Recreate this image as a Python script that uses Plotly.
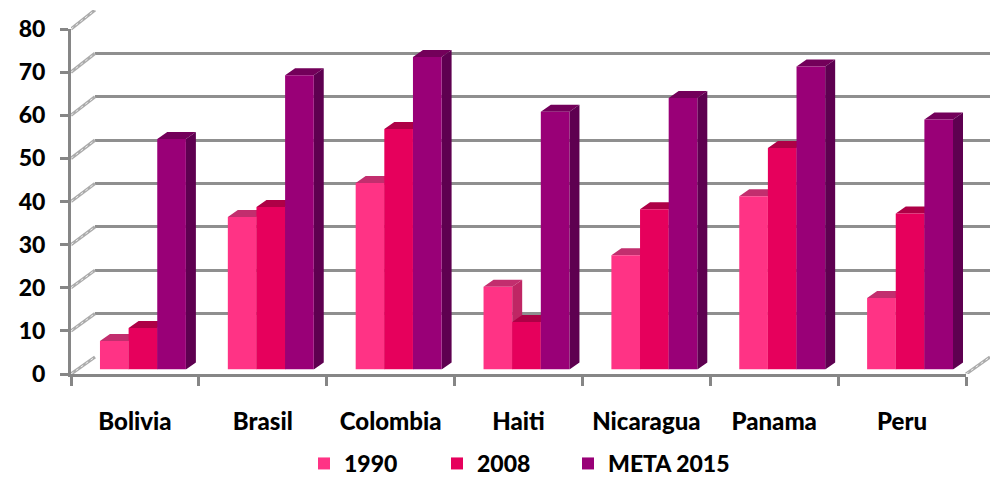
import plotly.graph_objects as go

categories = ["Bolivia", "Brasil", "Colombia", "Haiti", "Nicaragua", "Panama", "Peru"]
series_names = ["1990", "2008", "META 2015"]
v1990 = [6.6, 35.4, 43.3, 19.2, 26.5, 40.2, 16.6]
v2008 = [9.6, 37.7, 55.8, 11.0, 37.2, 51.4, 36.2]
vmeta = [53.5, 68.3, 72.5, 59.8, 63.0, 70.3, 58.0]
y_ticks = [0, 10, 20, 30, 40, 50, 60, 70, 80]

front_colors = ["#FF3385", "#E6005C", "#990077"]
top_colors = ["#C22E6E", "#AE0046", "#73005A"]
side_colors = ["#BF2664", "#AA0044", "#5E0050"]
AXIS = "#868686"
FONT = "Lato"

W, H = 990, 478
def dx(a, b): return [a / W, b / W]
def dy(top, bot): return [1 - bot / H, 1 - top / H]

fig = go.Figure()
series = [v1990, v2008, vmeta]
n = len(categories)
x_centers = [i + 0.5 for i in range(n)]

BAR_SCALE = 4.31
SLOT = 0.224
DEP_X = 10 / 127.9
DEP_Y = 7 / BAR_SCALE

# anchors the back wall subplot, whose gridlines need a trace to exist
fig.add_trace(go.Scatter(x=[None], y=[None], xaxis="x", yaxis="y", showlegend=False, hoverinfo="skip"))
# keeps the front axes subplot alive
fig.add_trace(go.Scatter(x=[None], y=[None], xaxis="x2", yaxis="y2", showlegend=False, hoverinfo="skip"))

for s, vals in enumerate(series):
    tx, ty, sx, sy = [], [], [], []
    for i, v in enumerate(vals):
        l = x_centers[i] - 1.5 * SLOT + s * SLOT
        r = l + SLOT
        tx += [l, r, r + DEP_X, l + DEP_X, l, None]
        ty += [v, v, v + DEP_Y, v + DEP_Y, v, None]
        sx += [r, r + DEP_X, r + DEP_X, r, r, None]
        sy += [0, DEP_Y, v + DEP_Y, v, 0, None]
    for xs, ys, c in ((tx, ty, top_colors[s]), (sx, sy, side_colors[s])):
        fig.add_trace(go.Scatter(x=xs, y=ys, mode="lines", fill="toself", fillcolor=c,
                                 line=dict(width=0, color=c), xaxis="x3", yaxis="y3",
                                 showlegend=False, hoverinfo="skip", cliponaxis=False))

legend_ids = ["legend", "legend2", "legend3"]
for s, vals in enumerate(series):
    fig.add_trace(go.Bar(x=x_centers, y=vals, name=series_names[s], marker_color=front_colors[s],
                         marker_line_width=0, xaxis="x4", yaxis="y4", legend=legend_ids[s]))

# oblique strips joining the front axis to the back wall
WALL_X = 24 / 127.9
def diag(x0, t):
    return [x0, x0 + WALL_X], [t, t + (17 + 2 * t / 80) / 4.3125]
for x0, t in [(0, t) for t in y_ticks] + [(7, 0)]:
    xs, ys = diag(x0, t)
    for col, wd, dash in (("#ABABAB", 3.2, "solid"), ("#EFEFEF", 1.0, "dot")):
        fig.add_trace(go.Scatter(x=xs, y=ys, mode="lines", line=dict(color=col, width=wd, dash=dash),
                                 xaxis="x5", yaxis="y5", showlegend=False, hoverinfo="skip"))

tick_font = dict(family=FONT, size=23, color="black", weight=900)
cat_font = dict(family=FONT, size=24, color="black", weight=900)
leg_font = dict(family=FONT, size=23, color="black", weight=900)
hidden = dict(visible=False, fixedrange=True)

def legend_at(px):
    return dict(orientation="h", x=px / W, y=1 - 463.5 / H, xanchor="left", yanchor="middle",
                font=leg_font, bgcolor="rgba(0,0,0,0)", itemwidth=30)

fig.update_layout(
    width=W, height=H, margin=dict(l=0, r=0, t=0, b=0, autoexpand=False), autosize=False,
    paper_bgcolor="white", plot_bgcolor="rgba(0,0,0,0)",
    barmode="group", bargap=1 - 3 * SLOT, bargroupgap=0,
    xaxis=dict(domain=dx(95, 990), range=[0, 7], visible=False, showgrid=False),
    yaxis=dict(domain=dy(10, 357), range=[0, 80], anchor="x", tickvals=y_ticks, showgrid=True,
               gridcolor="#8F8F8F", gridwidth=2.5, showticklabels=False, ticks="", zeroline=False,
               showline=False),
    xaxis2=dict(domain=dx(71, 966), range=[0, 7], anchor="y2", showline=True, linecolor=AXIS, linewidth=3,
                showgrid=False, zeroline=False, tickvals=x_centers, ticktext=categories, ticks="",
                tickfont=cat_font, ticklabelstandoff=24,
                minor=dict(tickvals=list(range(n + 1)), ticks="outside", ticklen=9, tickwidth=3,
                           tickcolor=AXIS, showgrid=False)),
    yaxis2=dict(domain=dy(29, 374), range=[0, 80], anchor="x2", showline=True, linecolor=AXIS, linewidth=3,
                showgrid=False, zeroline=False, tickvals=y_ticks, ticks="outside", ticklen=8, tickwidth=3,
                tickcolor=AXIS, tickfont=tick_font, ticklabelstandoff=10),
    xaxis3=dict(domain=dx(79, 974), range=[0, 7], anchor="y3", **hidden),
    yaxis3=dict(domain=dy(369.5 - 80 * BAR_SCALE, 369.5), range=[0, 80], anchor="x3", **hidden),
    xaxis4=dict(domain=dx(79, 974), range=[0, 7], anchor="y4", **hidden),
    yaxis4=dict(domain=dy(369.5 - 80 * BAR_SCALE, 369.5), range=[0, 80], anchor="x4", **hidden),
    xaxis5=dict(domain=dx(71, 990), range=[0, 919 / 127.86], anchor="y5", **hidden),
    yaxis5=dict(domain=dy(10, 374), range=[0, 364 / 4.3125], anchor="x5", **hidden),
    legend=legend_at(304),
    legend2=legend_at(437),
    legend3=legend_at(568),
)
fig.write_html("out.html", config={"displayModeBar": False},
               post_script="document.body.style.margin='0';")
